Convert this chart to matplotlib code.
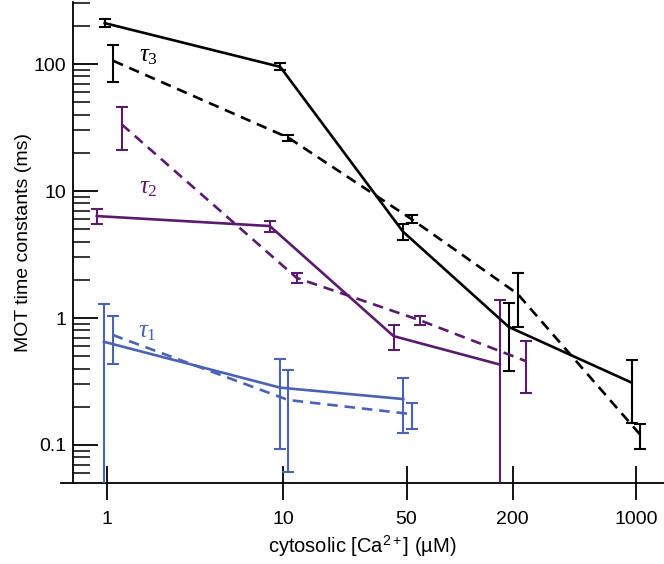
import numpy as np
import matplotlib
matplotlib.use('Agg')
import matplotlib.pyplot as plt
from matplotlib.ticker import FixedLocator, FixedFormatter, LogLocator, NullFormatter, NullLocator

plt.rcParams['font.family'] = ['Liberation Sans', 'DejaVu Sans']
plt.rcParams['mathtext.fontset'] = 'custom'
plt.rcParams['mathtext.rm'] = 'Liberation Serif'
plt.rcParams['mathtext.it'] = 'Liberation Serif:italic'
plt.rcParams['mathtext.sf'] = 'Liberation Sans'

# tau3 (black)
t3_solid_x = [0.97, 9.6, 47.6, 190, 944]
t3_solid_y = [210, 95, 4.8, 0.85, 0.31]
t3_solid_err = [15, 6, 0.65, 0.47, 0.16]
t3_dash_x = [1.085, 10.67, 53.4, 213, 1060]
t3_dash_y = [106, 26.3, 6.0, 1.55, 0.12]
t3_dash_err = [34, 1.4, 0.45, 0.7, 0.027]

# tau2 (purple)
t2_solid_x = [0.874, 8.38, 42.2, 169]
t2_solid_y = [6.35, 5.3, 0.72, 0.43]
t2_solid_err = [0.85, 0.52, 0.165, 0.96]
t2_dash_x = [1.21, 11.9, 59.5, 238]
t2_dash_y = [33.5, 2.07, 0.96, 0.457]
t2_dash_err = [12.5, 0.2, 0.08, 0.2]

# tau1 (blue)
t1_solid_x = [0.96, 9.58, 47.9]
t1_solid_y = [0.65, 0.283, 0.23]
t1_solid_err = [0.64, 0.19, 0.105]
t1_dash_x = [1.077, 10.67, 53.4]
t1_dash_y = [0.735, 0.226, 0.175]
t1_dash_err = [0.30, 0.165, 0.041]

x_ticks = [1, 10, 50, 200, 1000]
x_labels = ['1', '10', '50', '200', '1000']
y_ticks = [0.1, 1, 10, 100]
y_labels = ['0.1', '1', '10', '100']

black = '#000000'
purple = '#5a1a6e'
blue = '#4a63b8'

fig = plt.figure(figsize=(6.64, 5.64), dpi=100)
ax = fig.add_axes([61/664, 81/564, 603/664, 481/564])
ax.set_xscale('log')
ax.set_yscale('log')
ax.set_xlim(0.548, 1442)
ax.set_ylim(0.0502, 308)

series = [
    (t3_solid_x, t3_solid_y, t3_solid_err, black, '-'),
    (t3_dash_x, t3_dash_y, t3_dash_err, black, '--'),
    (t2_solid_x, t2_solid_y, t2_solid_err, purple, '-'),
    (t2_dash_x, t2_dash_y, t2_dash_err, purple, '--'),
    (t1_solid_x, t1_solid_y, t1_solid_err, blue, '-'),
    (t1_dash_x, t1_dash_y, t1_dash_err, blue, '--'),
]
for x, y, e, c, ls in series:
    eb = ax.errorbar(x, y, yerr=e, color=c, lw=1.9, elinewidth=1.5,
                     capsize=4, capthick=1.5, zorder=3)
    eb[0].set_linestyle(ls)
    if ls == '--':
        eb[0].set_dashes([4, 2.6])

# curve labels
ax.text(1.71, 118, r'$\tau_3$', color=black, fontsize=18, ha='center', va='center')
ax.text(1.71, 10.7, r'$\tau_2$', color=purple, fontsize=18, ha='center', va='center')
ax.text(1.69, 0.79, r'$\tau_1$', color=blue, fontsize=18, ha='center', va='center')

for s in ['top', 'right']:
    ax.spines[s].set_visible(False)
ax.spines['left'].set_position(('data', 0.641))
ax.spines['left'].set_linewidth(1.3)
ax.spines['bottom'].set_linewidth(1.3)

ax.xaxis.set_major_locator(FixedLocator(x_ticks))
ax.xaxis.set_major_formatter(FixedFormatter(x_labels))
ax.xaxis.set_minor_locator(NullLocator())
ax.yaxis.set_major_locator(FixedLocator(y_ticks))
ax.yaxis.set_major_formatter(FixedFormatter(y_labels))
ax.yaxis.set_minor_locator(LogLocator(base=10, subs=np.arange(2, 10), numticks=20))
ax.yaxis.set_minor_formatter(NullFormatter())

ax.tick_params(axis='x', direction='inout', length=24, width=1.3, labelsize=14, pad=8)
ax.tick_params(axis='y', which='major', direction='in', length=18, width=1.3, labelsize=14, pad=5)
ax.tick_params(axis='y', which='minor', direction='in', length=12, width=1.1)

ax.set_xlabel('cytosolic [Ca$^{\\mathsf{2+}}$] (µM)', fontsize=14.5, labelpad=4)
ax.set_ylabel('MOT time constants (ms)', fontsize=14, labelpad=1)

fig.savefig('out.png', dpi=100)
